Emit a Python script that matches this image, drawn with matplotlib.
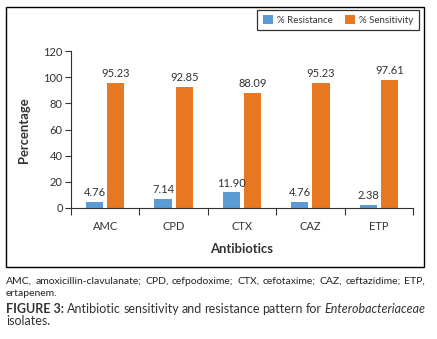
import matplotlib
matplotlib.use("Agg")
import matplotlib.pyplot as plt
import numpy as np
from matplotlib.patches import Rectangle

plt.rcParams['font.family'] = ['Lato', 'DejaVu Sans']

categories = ["AMC", "CPD", "CTX", "CAZ", "ETP"]
resistance = [4.76, 7.14, 11.90, 4.76, 2.38]
sensitivity = [95.23, 92.85, 88.09, 95.23, 97.61]
res_labels = ["4.76", "7.14", "11.90", "4.76", "2.38"]
sen_labels = ["95.23", "92.85", "88.09", "95.23", "97.61"]
yticks = [0, 20, 40, 60, 80, 100, 120]

W, H = 437, 339
fig = plt.figure(figsize=(W / 100, H / 100), dpi=100)

# outer frame
fig.patches.append(Rectangle((6 / W, 1 - 267 / H), 418 / W, 260 / H, transform=fig.transFigure,
                             fill=False, edgecolor='black', linewidth=1.0))

ax = fig.add_axes([71 / W, 1 - 208 / H, 342 / W, 157 / H])
x = np.arange(len(categories))
bw = 0.25
off = 0.155
blue = '#5B9BD5'
orange = '#E87722'
b1 = ax.bar(x - off, resistance, bw, color=blue, label='% Resistance')
b2 = ax.bar(x + off, sensitivity, bw, color=orange, label='% Sensitivity')
for xi, v, t in zip(x, resistance, res_labels):
    ax.text(xi - off, v + 3, t, ha='center', va='bottom', fontsize=8, color='#333333')
for xi, v, t in zip(x, sensitivity, sen_labels):
    ax.text(xi + off, v + 3, t, ha='center', va='bottom', fontsize=8, color='#333333')

ax.set_xlim(-0.5, len(categories) - 0.5)
ax.set_ylim(0, 120)
ax.set_yticks(yticks)
ax.tick_params(axis='y', labelsize=8, length=4, width=0.8, colors='#333333', pad=2)
ax.set_xticks(np.arange(-0.5, len(categories), 1.0))
ax.set_xticklabels([])
ax.set_xticks(x, minor=True)
ax.set_xticklabels(categories, minor=True)
ax.tick_params(axis='x', which='major', length=5, width=0.8, colors='#333333')
ax.tick_params(axis='x', which='minor', length=0, labelsize=8, pad=9, labelcolor='#333333')
for s in ['top', 'right']:
    ax.spines[s].set_visible(False)
for s in ['left', 'bottom']:
    ax.spines[s].set_color('#333333')
    ax.spines[s].set_linewidth(0.8)

fig.text(24 / W, 1 - 130 / H, 'Percentage', rotation=90, ha='center', va='center',
         fontsize=9.4, fontweight='bold', color='#333333')
fig.text(242 / W, 1 - 249 / H, 'Antibiotics', ha='center', va='center',
         fontsize=9.4, fontweight='bold', color='#333333')

leg = fig.legend(handles=[b1, b2], loc='upper right', bbox_to_anchor=(419 / W, 1 - 10 / H),
                 ncol=2, fontsize=7, frameon=True, fancybox=False, handlelength=1.0,
                 handleheight=1.0, handletextpad=0.5, columnspacing=1.2,
                 borderpad=0.55, borderaxespad=0)
leg.get_frame().set_edgecolor('black')
leg.get_frame().set_linewidth(0.9)
for t in leg.get_texts():
    t.set_color('#333333')

# caption with justification
renderer = fig.canvas.get_renderer()
x0, x1 = 6, 425


def justify_line(words, y, fontsize, weights=None, styles=None, color='#222222'):
    texts = []
    for i, w in enumerate(words):
        fw = weights[i] if weights else 'normal'
        fs = styles[i] if styles else 'normal'
        t = fig.text(0, 1 - y / H, w, fontsize=fontsize, fontweight=fw, fontstyle=fs,
                     color=color, va='center', ha='left')
        texts.append(t)
    widths = [t.get_window_extent(renderer).width for t in texts]
    gap = (x1 - x0 - sum(widths)) / (len(words) - 1)
    pos = x0
    for t, w in zip(texts, widths):
        t.set_x(pos / W)
        pos += w + gap


line1 = "AMC, amoxicillin-clavulanate; CPD, cefpodoxime; CTX, cefotaxime; CAZ, ceftazidime; ETP,".split(' ')
justify_line(line1, 281, 7.5)
fig.text(x0 / W, 1 - 293 / H, "ertapenem.", fontsize=7.5, color='#222222', va='center', ha='left')

fig_words = ["FIGURE 3:", "Antibiotic", "sensitivity", "and", "resistance", "pattern", "for", "Enterobacteriaceae"]
weights = ['bold'] + ['normal'] * 7
styles = ['normal'] * 7 + ['italic']
justify_line(fig_words, 309, 9.0, weights, styles, color='#333333')
fig.text(x0 / W, 1 - 321 / H, "isolates.", fontsize=9.0, color='#333333', va='center', ha='left')

fig.savefig('out.png', dpi=100)
